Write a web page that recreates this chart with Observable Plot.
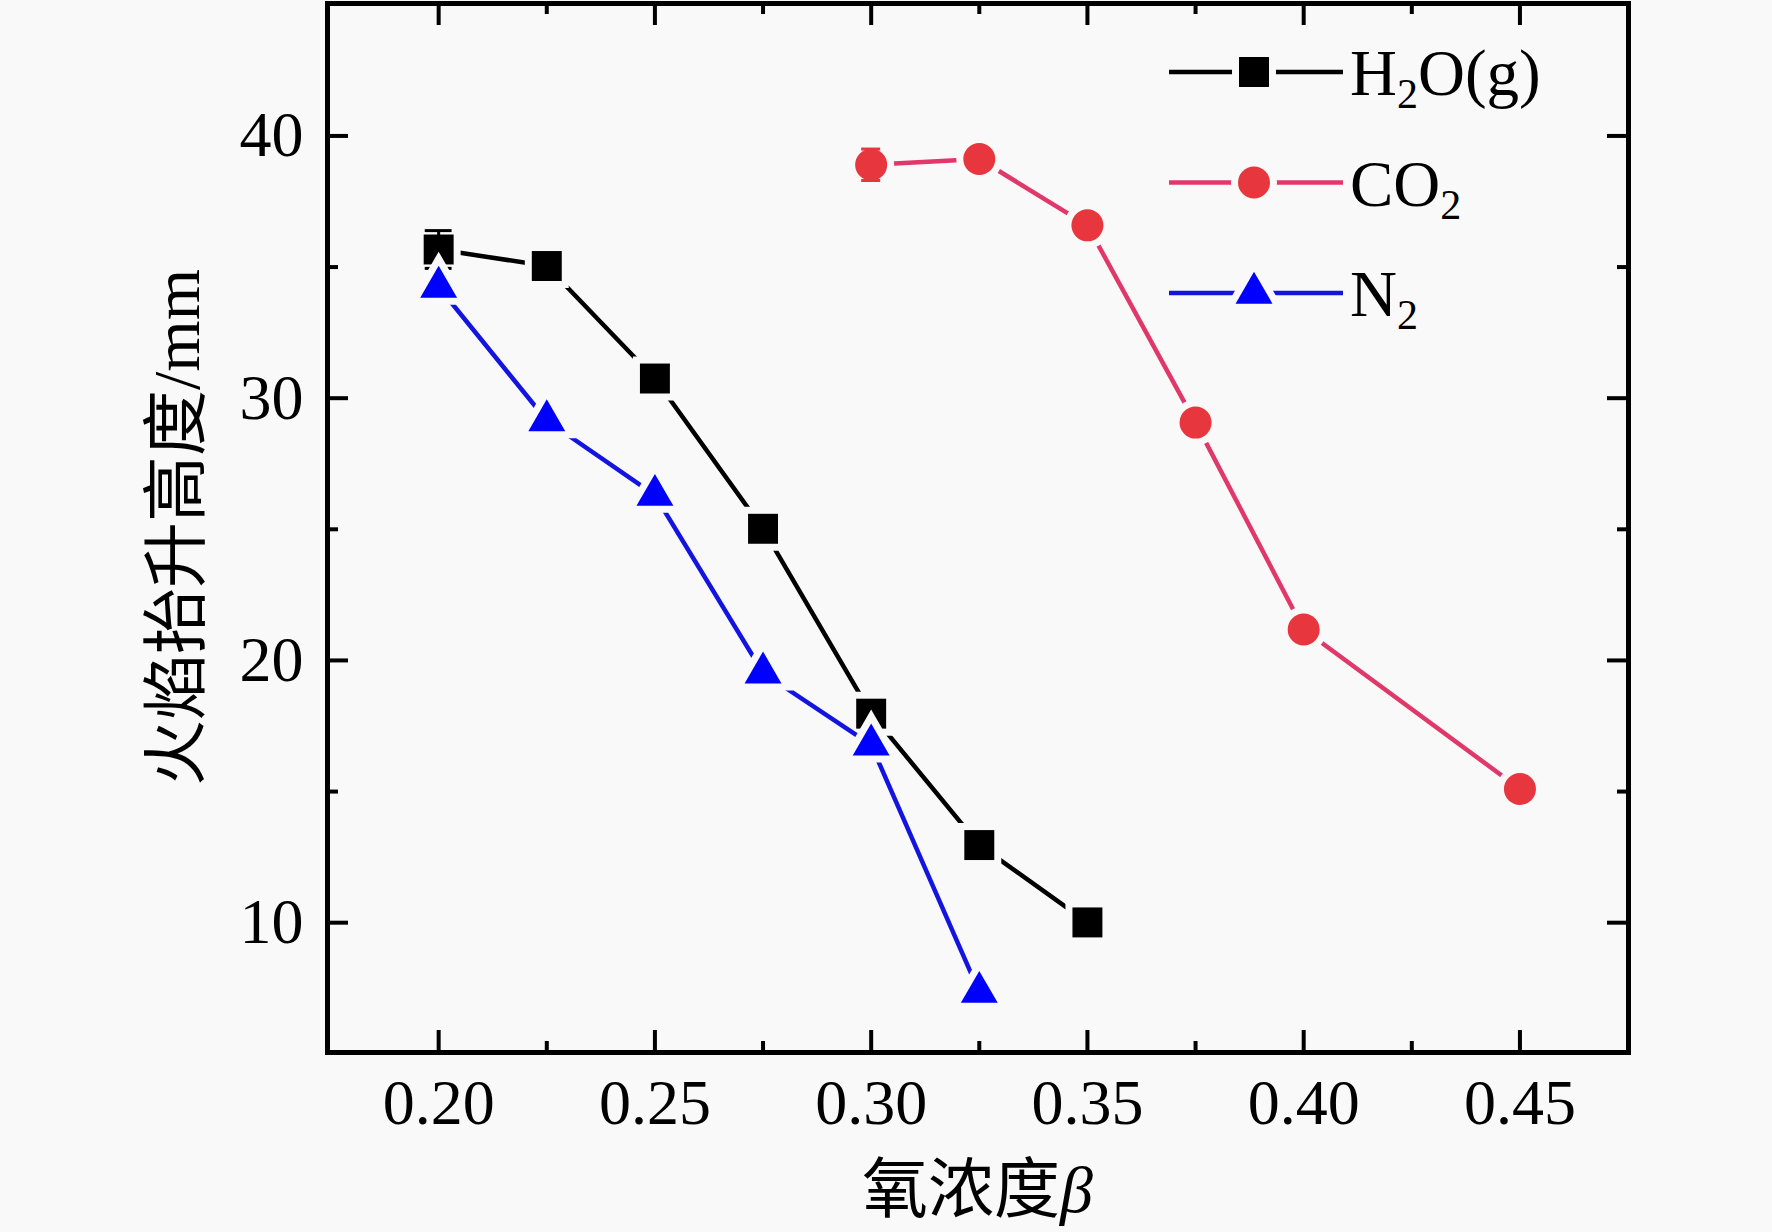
<!DOCTYPE html>
<html><head><meta charset="utf-8">
<script src="https://cdn.jsdelivr.net/npm/d3@7"></script>
<script src="https://cdn.jsdelivr.net/npm/@observablehq/plot@0.6"></script>
<style>html,body{margin:0;padding:0;background:#f9f9f9;} svg{display:block;}</style>
</head><body><div id="chart"></div>
<script>
// ---- data ----
const h2oX = [0.20, 0.225, 0.25, 0.275, 0.30, 0.325, 0.35];
const h2oY = [35.67, 35.04, 30.75, 25.02, 17.97, 12.96, 10.01];
const h2oErr = [0.72, 0, 0, 0, 0, 0, 0];
const co2X = [0.30, 0.325, 0.35, 0.375, 0.40, 0.45];
const co2Y = [38.9, 39.12, 36.59, 29.07, 21.18, 15.1];
const co2Err = [0.6, 0, 0, 0, 0, 0];
const n2X = [0.20, 0.225, 0.25, 0.275, 0.30, 0.325];
const n2Y = [34.24, 29.15, 26.3, 19.53, 16.78, 7.35];
const n2Err = [0, 0, 0, 0, 0, 0];
const seriesKeys = ["H2O", "CO2", "N2"];
const xMajor = [0.20, 0.25, 0.30, 0.35, 0.40, 0.45];
const xMinor = [0.225, 0.275, 0.325, 0.375, 0.425];
const yMajor = [10, 20, 30, 40];
const yMinor = [15, 25, 35];
const xTitle = "氧浓度";
const xTitleSym = "β";
const yTitle = "火焰抬升高度/mm";

// ---- layout ----
const W = 1772, H = 1232, mL = 327, mR = 144, mT = 3, mB = 180;
const plotW = W - mL - mR, plotH = H - mT - mB;
const bg = "#f9f9f9";
const serif = "'Liberation Serif', 'Times New Roman', 'Noto Sans CJK SC', serif";

const styles = {
  H2O: {line: "#000000", fill: "#000000", symbol: "square", r: 16.9, capHalf: 0.0031},
  CO2: {line: "#e0386a", fill: "#e8363f", symbol: "circle", r: 16, capHalf: 0.0022},
  N2:  {line: "#1414e0", fill: "#0000ff", symbol: "triangle", r: 13.7, capHalf: 0.0031}
};
const build = (xs, ys, es, key) => xs.map((x, i) => ({key, x, y: ys[i], err: es[i]}));
const data = {
  H2O: build(h2oX, h2oY, h2oErr, "H2O"),
  CO2: build(co2X, co2Y, co2Err, "CO2"),
  N2: build(n2X, n2Y, n2Err, "N2")
};

const lineW = 4.5;
const seriesMarks = seriesKeys.flatMap(k => {
  const s = styles[k], d = data[k], e = d.filter(v => v.err > 0), c = s.capHalf;
  return [
    Plot.line(d, {x: "x", y: "y", stroke: s.line, strokeWidth: lineW}),
    Plot.dot(d, {x: "x", y: "y", symbol: s.symbol, r: s.r, fill: bg, stroke: bg, strokeWidth: 14}),
    Plot.ruleX(e, {x: "x", y1: v => v.y - v.err, y2: v => v.y + v.err, stroke: s.fill, strokeWidth: 3}),
    Plot.ruleY(e, {y: v => v.y + v.err, x1: v => v.x - c, x2: v => v.x + c, stroke: s.fill, strokeWidth: 3}),
    Plot.ruleY(e, {y: v => v.y - v.err, x1: v => v.x - c, x2: v => v.x + c, stroke: s.fill, strokeWidth: 3}),
    Plot.dot(d, {x: "x", y: "y", symbol: s.symbol, r: s.r, fill: s.fill, stroke: null})
  ];
});

const chart = Plot.plot({
  width: W, height: H,
  marginLeft: mL, marginRight: mR, marginTop: mT, marginBottom: mB,
  style: {background: bg, fontFamily: serif, color: "#000", overflow: "visible"},
  x: {domain: [0.1743, 0.4751]},
  y: {domain: [5.05, 45.05]},
  marks: [
    ...seriesMarks,
    Plot.tickX(xMajor, {x: d => d, insetTop: plotH - 22, stroke: "#000", strokeWidth: 4}),
    Plot.tickX(xMajor, {x: d => d, insetBottom: plotH - 22, stroke: "#000", strokeWidth: 4}),
    Plot.tickX(xMinor, {x: d => d, insetTop: plotH - 11, stroke: "#000", strokeWidth: 4}),
    Plot.tickX(xMinor, {x: d => d, insetBottom: plotH - 11, stroke: "#000", strokeWidth: 4}),
    Plot.tickY(yMajor, {y: d => d, insetRight: plotW - 21, stroke: "#000", strokeWidth: 4}),
    Plot.tickY(yMajor, {y: d => d, insetLeft: plotW - 21, stroke: "#000", strokeWidth: 4}),
    Plot.tickY(yMinor, {y: d => d, insetRight: plotW - 11, stroke: "#000", strokeWidth: 4}),
    Plot.tickY(yMinor, {y: d => d, insetLeft: plotW - 11, stroke: "#000", strokeWidth: 4}),
    Plot.frame({stroke: "#000", strokeWidth: 5}),
    Plot.axisX({ticks: xMajor, tickSize: 0, tickPadding: 26, tickFormat: d3.format(".2f"), fontSize: 64, label: null}),
    Plot.axisY({ticks: yMajor, tickSize: 0, tickPadding: 24, tickFormat: d3.format("d"), fontSize: 64, label: null})
  ]
});

const svg = d3.select(chart);
// axis titles
const xt = svg.append("text")
  .attr("x", mL + plotW / 2).attr("y", 1212)
  .attr("text-anchor", "middle")
  .attr("font-family", serif).attr("font-size", 66).attr("fill", "#000");
xt.append("tspan").text(xTitle);
xt.append("tspan").attr("font-style", "italic").text(xTitleSym);

svg.append("text")
  .attr("transform", `translate(176,${mT + plotH / 2}) rotate(-90)`)
  .attr("text-anchor", "middle").attr("dominant-baseline", "central")
  .attr("font-family", serif).attr("font-size", 66).attr("fill", "#000")
  .text(yTitle);

// legend
const legendLabels = {
  H2O: [["H", 0], ["2", 1], ["O(g)", 0]],
  CO2: [["CO", 0], ["2", 1]],
  N2: [["N", 0], ["2", 1]]
};
const lg = svg.append("g");
seriesKeys.forEach((k, i) => {
  const s = styles[k];
  const cy = 72 + i * 110.5;
  lg.append("line").attr("x1", 1169).attr("x2", 1343).attr("y1", cy).attr("y2", cy)
    .attr("stroke", s.line).attr("stroke-width", lineW);
  const sym = {square: d3.symbolSquare, circle: d3.symbolCircle, triangle: d3.symbolTriangle}[s.symbol];
  const p = d3.symbol(sym, Math.PI * s.r * s.r)();
  lg.append("path").attr("d", p).attr("transform", `translate(1254,${cy})`)
    .attr("fill", bg).attr("stroke", bg).attr("stroke-width", 14);
  lg.append("path").attr("d", p).attr("transform", `translate(1254,${cy})`)
    .attr("fill", s.fill);
  const t = lg.append("text").attr("x", 1350).attr("y", cy + 23)
    .attr("text-anchor", "start")
    .attr("font-family", serif).attr("font-size", 65).attr("fill", "#000");
  legendLabels[k].forEach(([str, sub], j, arr) => {
    const ts = t.append("tspan").text(str);
    if (sub) ts.attr("font-size", 42).attr("dy", 13);
    else if (j > 0 && arr[j - 1][1]) ts.attr("dy", -13);
  });
});

document.getElementById("chart").appendChild(chart);
</script>
</body></html>
